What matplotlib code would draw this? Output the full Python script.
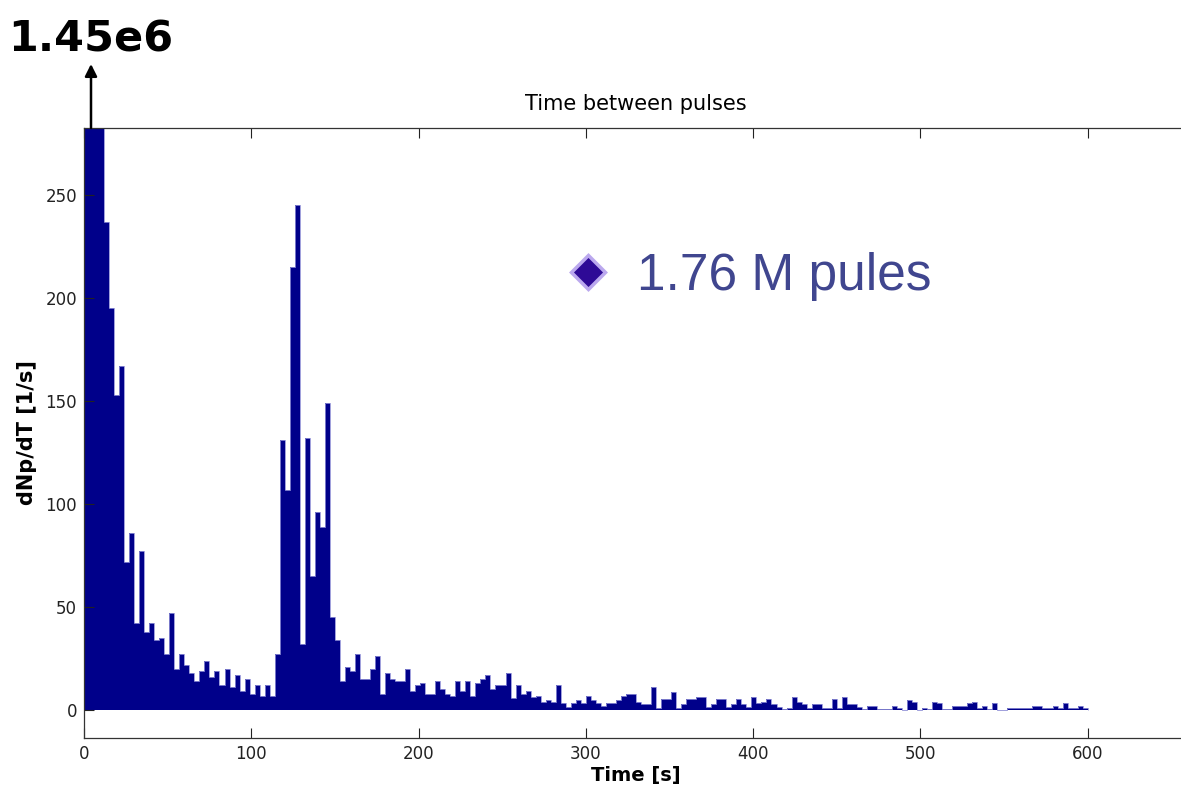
import numpy as np
import matplotlib
matplotlib.use("Agg")
import matplotlib.pyplot as plt
from matplotlib.lines import Line2D

# pulse rate per 3 s bin of time between pulses, 0 ... 600 s
bin_width = 3
rate = [
    1.45e6, 700, 450, 300, 237, 195, 153, 167, 72, 86,
    42, 77, 38, 42, 34, 35, 27, 47, 20, 27,
    22, 18, 14, 19, 24, 16, 19, 12, 20, 11,
    17, 9, 15, 8, 12, 7, 12, 7, 27, 131,
    107, 215, 245, 32, 132, 65, 96, 89, 149, 45,
    34, 14, 21, 19, 27, 15, 15, 20, 26, 8,
    18, 15, 14, 14, 20, 9, 12, 13, 8, 8,
    14, 10, 8, 7, 14, 9, 14, 7, 13, 15,
    17, 10, 12, 12, 18, 6, 12, 8, 9, 6.5,
    7, 4, 5, 4, 12, 3.6, 1.6, 3.6, 5, 3.2,
    7, 5, 3.6, 2, 3.2, 3.6, 5, 7, 8, 8,
    3.7, 3.1, 3.1, 11, 0.8, 5.2, 5.2, 8.7, 0.8, 3.1,
    5.2, 5.2, 6.1, 6.1, 1.6, 3.1, 5.2, 5.2, 1.6, 3.1,
    5.2, 3.1, 1.6, 6.1, 3.2, 4.1, 5.2, 3.1, 1.6, 0.3,
    0.8, 6.1, 4.1, 3.1, 0.8, 3.1, 3.1, 0.8, 0.8, 5.2,
    0.8, 6.1, 3.1, 3.1, 1.6, 0.5, 1.9, 1.9, 0.6, 0.6,
    0.5, 1.9, 0.8, 0, 5, 4, 0, 0.8, 0.3, 3.7,
    3.2, 0.3, 0.3, 1.9, 1.9, 1.9, 3.2, 3.9, 0.8, 1.9,
    0.3, 3.2, 0, 0, 0.8, 0.8, 0.8, 0.8, 0.8, 1.9,
    1.9, 0.8, 0.8, 1.9, 0.8, 3.2, 0.8, 0.8, 1.9, 0.8,
]
edges = np.arange(0, bin_width * len(rate) + 1, bin_width)

x_ticks = [0, 100, 200, 300, 400, 500, 600]
y_ticks = [0, 50, 100, 150, 200, 250]
n_pulses_label = "1.76 M pules"

W, H = 1181, 792
fig = plt.figure(figsize=(W / 100, H / 100), dpi=100)
ax = fig.add_axes([84 / W, 54 / H, (1188 - 84) / W, (738 - 128) / H])

navy = "#00008a"
ax.stairs(rate, edges, fill=True, color=navy, lw=0)
ax.stairs(rate, edges, color="#8f8fd6", lw=0.6, baseline=0)

ax.set_xlim(0, 660)
ax.set_ylim(-13.6, 282.5)
ax.set_xticks(x_ticks)
ax.set_yticks(y_ticks)
ax.tick_params(direction="in", length=7, width=0.8, top=True, right=False,
               labelsize=12, pad=5, colors="#222222")
ax.spines["right"].set_visible(False)
for s in ("left", "top", "bottom"):
    ax.spines[s].set_linewidth(0.9)
    ax.spines[s].set_color("#333333")

ax.set_title("Time between pulses", fontsize=15, pad=13)
ax.set_xlabel("Time [s]", fontsize=14, fontweight="bold", labelpad=2)
ax.set_ylabel("dNp/dT [1/s]", fontsize=15, fontweight="bold", labelpad=6)

# first bin is far off scale: arrow plus its value
mant, expo = f"{rate[0]:.2e}".split("e")
peak_label = f"{mant}e{int(expo)}"
ax.annotate("", xy=(91 / W, 1 - 64 / H), xytext=(91 / W, 1 - 128 / H),
            xycoords="figure fraction", textcoords="figure fraction",
            arrowprops=dict(arrowstyle="-|>", color="k", lw=1.8,
                            mutation_scale=18, shrinkA=0, shrinkB=0))
fig.text(8 / W, 1 - 52 / H, peak_label, fontsize=31, fontweight="bold",
         ha="left", va="baseline")

# pulse count note with diamond bullet
fig.add_artist(Line2D([588 / W], [1 - 272 / H], transform=fig.transFigure,
                      marker="D", ms=17, mfc="#2e0a96", mec="#bba8ee", mew=2.5))
fig.text(637 / W, 1 - 290 / H, n_pulses_label, fontsize=37,
         family="Liberation Sans", color="#40468f", ha="left", va="baseline")

fig.savefig("out.png", dpi=100)
